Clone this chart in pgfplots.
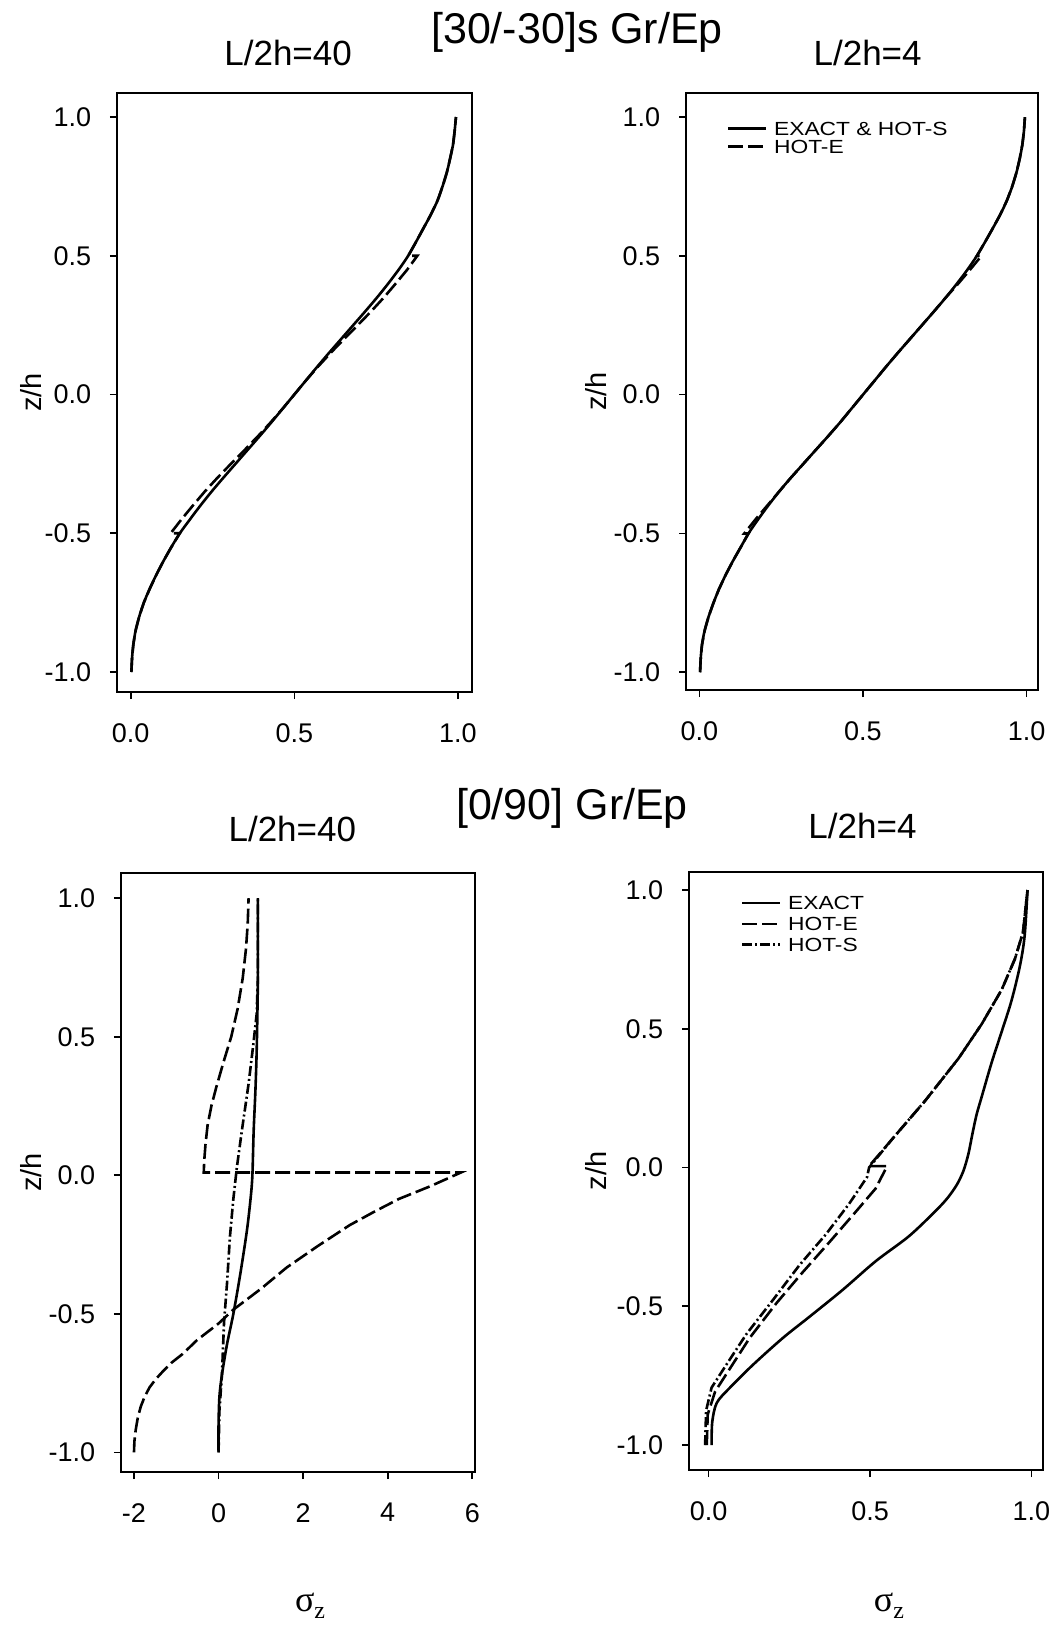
\documentclass[border=0pt]{standalone}
\usepackage{fontspec}
\setmainfont{Liberation Sans}
\newfontfamily\symfont{Liberation Serif}
\newfontfamily\legfont[FakeStretch=1.2]{Liberation Sans}
\usepackage{pgfplots}
\pgfplotsset{compat=1.18}

\pgfplotsset{
  panel/.style={
    scale only axis, anchor=north west, no markers,
    axis line style={line width=1pt},
    tick align=outside, tick pos=left,
    major tick length=3.5pt, tick style={line width=0.8pt, black},
    ytick={-1,-0.5,0,0.5,1},
    /pgf/number format/assume math mode=true,
    ticklabel style={font=\fontsize{13.5}{16}\selectfont, inner sep=0pt},
    yticklabel style={/pgf/number format/.cd, fixed, fixed zerofill, precision=1},
    xticklabel shift=12pt, yticklabel shift=9.2pt,
    ylabel={z/h},
    title style={font=\fontsize{17.5}{20}\selectfont, anchor=base},
    legend style={draw=none, fill=none, inner sep=0pt, anchor=north west,
      font=\fontsize{9.5}{11}\legfont, row sep=0pt, column sep=2pt,
      cells={anchor=west}, nodes={inner sep=1.2pt, text height=6.8pt, text depth=0pt}},
    legend image code/.code={\draw[#1] (0pt,0pt) -- (19pt,0pt);},
  },
  ylab/.style={every axis y label/.style={at={(axis description cs:#1,0.5)},
    rotate=90, anchor=center, font=\fontsize{14.5}{16}\selectfont}},
  unitx/.style={xtick={0,0.5,1},
    xticklabel style={/pgf/number format/.cd, fixed, fixed zerofill, precision=1}},
  exact/.style={line width=1.3pt},
  hote/.style={line width=1.3pt, dash pattern=on 7.5pt off 2.5pt},
  hots/.style={line width=1.3pt, dash pattern=on 5pt off 1.5pt on 1pt off 1.5pt},
}

\begin{document}
\begin{tikzpicture}
\path[use as bounding box] (0,0) rectangle (528.5pt,-813.5pt);

% ---- [30/-30]s, L/2h=40
\begin{axis}[panel, unitx, ylab=-0.2423,
  at={(58.5pt,-46.5pt)}, width=177.5pt, height=299.5pt,
  xmin=-0.042, xmax=1.043, ymin=-1.072, ymax=1.0865,
  title={L/2h=40},
  every axis title/.append style={at={(axis description cs:0.482,1)}, yshift=7.6pt},
]
\addplot[exact, smooth] coordinates {
(0.002,-1.00)(0.004,-0.95)(0.008,-0.90)(0.015,-0.85)(0.026,-0.80)(0.040,-0.75)(0.058,-0.70)(0.078,-0.65)(0.100,-0.60)(0.124,-0.55)(0.150,-0.50)(0.181,-0.45)(0.213,-0.40)(0.247,-0.35)(0.283,-0.30)(0.320,-0.25)(0.357,-0.20)(0.394,-0.15)(0.430,-0.10)(0.465,-0.05)(0.500,0.00)(0.535,0.05)(0.570,0.10)(0.606,0.15)(0.643,0.20)(0.680,0.25)(0.717,0.30)(0.753,0.35)(0.787,0.40)(0.819,0.45)(0.848,0.50)(0.872,0.55)(0.895,0.60)(0.918,0.65)(0.938,0.70)(0.953,0.75)(0.966,0.80)(0.976,0.85)(0.985,0.90)(0.990,0.95)(0.994,1.00)};
\addplot[hote] coordinates {
(0.002,-1.00)(0.004,-0.95)(0.008,-0.90)(0.015,-0.85)(0.026,-0.80)(0.040,-0.75)(0.058,-0.70)(0.078,-0.65)(0.100,-0.60)(0.124,-0.55)(0.150,-0.50)(0.122,-0.50)(0.155,-0.45)(0.190,-0.40)(0.226,-0.35)(0.265,-0.30)(0.306,-0.25)(0.348,-0.20)(0.389,-0.15)(0.428,-0.10)(0.465,-0.05)(0.500,0.00)(0.535,0.05)(0.572,0.10)(0.611,0.15)(0.652,0.20)(0.694,0.25)(0.735,0.30)(0.774,0.35)(0.810,0.40)(0.845,0.45)(0.876,0.50)(0.848,0.50)(0.872,0.55)(0.895,0.60)(0.918,0.65)(0.938,0.70)(0.953,0.75)(0.966,0.80)(0.976,0.85)(0.985,0.90)(0.990,0.95)(0.994,1.00)};
\end{axis}

% ---- [30/-30]s, L/2h=4
\begin{axis}[panel, unitx, ylab=-0.2543,
  at={(343pt,-46.5pt)}, width=176pt, height=298.5pt,
  xmin=-0.041, xmax=1.035, ymin=-1.064, ymax=1.087,
  title={L/2h=4},
  every axis title/.append style={at={(axis description cs:0.516,1)}, yshift=7.6pt},
  legend style={at={(axis description cs:0.1156,0.957)}},
]
\addplot[exact, smooth] coordinates {
(0.002,-1.00)(0.004,-0.95)(0.008,-0.90)(0.016,-0.85)(0.028,-0.80)(0.043,-0.75)(0.060,-0.70)(0.080,-0.65)(0.102,-0.60)(0.126,-0.55)(0.150,-0.50)(0.179,-0.45)(0.210,-0.40)(0.243,-0.35)(0.279,-0.30)(0.317,-0.25)(0.355,-0.20)(0.393,-0.15)(0.430,-0.10)(0.465,-0.05)(0.500,0.00)(0.535,0.05)(0.570,0.10)(0.606,0.15)(0.643,0.20)(0.680,0.25)(0.717,0.30)(0.753,0.35)(0.787,0.40)(0.819,0.45)(0.848,0.50)(0.873,0.55)(0.897,0.60)(0.920,0.65)(0.940,0.70)(0.956,0.75)(0.969,0.80)(0.979,0.85)(0.987,0.90)(0.992,0.95)(0.995,1.00)};
\addplot[hote] coordinates {
(0.002,-1.00)(0.004,-0.95)(0.008,-0.90)(0.016,-0.85)(0.028,-0.80)(0.043,-0.75)(0.060,-0.70)(0.080,-0.65)(0.102,-0.60)(0.126,-0.55)(0.150,-0.50)(0.137,-0.50)(0.171,-0.45)(0.207,-0.40)(0.243,-0.35)(0.279,-0.30)(0.317,-0.25)(0.355,-0.20)(0.393,-0.15)(0.430,-0.10)(0.465,-0.05)(0.500,0.00)(0.535,0.05)(0.570,0.10)(0.606,0.15)(0.643,0.20)(0.680,0.25)(0.717,0.30)(0.753,0.35)(0.791,0.40)(0.827,0.45)(0.862,0.50)(0.848,0.50)(0.873,0.55)(0.897,0.60)(0.920,0.65)(0.940,0.70)(0.956,0.75)(0.969,0.80)(0.979,0.85)(0.987,0.90)(0.992,0.95)(0.995,1.00)};
\legend{EXACT \& HOT-S, HOT-E}
\end{axis}

% ---- [0/90], L/2h=40
\begin{axis}[panel, ylab=-0.2542,
  at={(60.5pt,-436.5pt)}, width=177pt, height=299.5pt,
  xmin=-2.307, xmax=6.064, ymin=-1.071, ymax=1.091,
  xtick={-2,0,2,4,6},
  title={L/2h=40},
  every axis title/.append style={at={(axis description cs:0.484,1)}, yshift=10pt},
  xlabel={{\fontsize{18}{20}\selectfont\symfont σ}{\fontsize{12}{14}\selectfont\symfont\raisebox{-3.5pt}{z}}},
  every axis x label/.style={at={(axis description cs:0.534,-0.224)}, anchor=center},
]
\addplot[exact, smooth] coordinates {
(0.00,-1.00)(0.00,-0.90)(0.02,-0.80)(0.08,-0.72)(0.20,-0.61)(0.35,-0.50)(0.51,-0.36)(0.67,-0.20)(0.76,-0.08)(0.80,0.00)(0.83,0.16)(0.87,0.30)(0.90,0.44)(0.92,0.60)(0.93,0.71)(0.93,0.85)(0.93,1.00)};
\addplot[hote] coordinates {
(-2.00,-1.00)(-1.99,-0.96)(-1.96,-0.92)(-1.91,-0.875)(-1.84,-0.835)(-1.75,-0.80)(-1.63,-0.765)(-1.48,-0.735)(-1.30,-0.705)(-1.10,-0.675)(-0.85,-0.645)(-0.51,-0.595)(0.00,-0.535)(0.35,-0.485)(1.00,-0.41)(1.61,-0.333)(2.35,-0.255)(3.10,-0.18)(3.70,-0.13)(4.27,-0.085)(5.00,-0.04)(5.73,0.01)(-0.35,0.01)(-0.34,0.05)(-0.31,0.11)(-0.26,0.18)(-0.17,0.25)(-0.05,0.32)(0.12,0.41)(0.30,0.50)(0.45,0.60)(0.57,0.71)(0.65,0.82)(0.69,0.91)(0.71,1.00)};
\addplot[hots] coordinates {
(0.00,-1.00)(0.02,-0.85)(0.08,-0.72)(0.13,-0.53)(0.20,-0.39)(0.27,-0.22)(0.35,-0.085)(0.43,0.025)(0.55,0.16)(0.71,0.33)(0.82,0.47)(0.90,0.58)(0.93,0.71)(0.93,0.85)(0.93,1.00)};
\end{axis}

% ---- [0/90], L/2h=4
\begin{axis}[panel, unitx, ylab=-0.2613,
  at={(344.5pt,-436pt)}, width=177pt, height=299pt,
  xmin=-0.061, xmax=1.036, ymin=-1.09, ymax=1.065,
  title={L/2h=4},
  every axis title/.append style={at={(axis description cs:0.49,1)}, yshift=10.7pt},
  xlabel={{\fontsize{18}{20}\selectfont\symfont σ}{\fontsize{12}{14}\selectfont\symfont\raisebox{-3.5pt}{z}}},
  every axis x label/.style={at={(axis description cs:0.565,-0.227)}, anchor=center},
  legend style={at={(axis description cs:0.146,0.964)}, row sep=1.2pt},
]
\addplot[exact, smooth] coordinates {
(0.009,-1.00)(0.011,-0.917)(0.025,-0.848)(0.066,-0.793)(0.138,-0.71)(0.23,-0.614)(0.312,-0.538)(0.415,-0.441)(0.517,-0.338)(0.62,-0.248)(0.70,-0.16)(0.74,-0.11)(0.77,-0.06)(0.79,-0.01)(0.805,0.05)(0.817,0.12)(0.83,0.19)(0.846,0.255)(0.877,0.379)(0.908,0.49)(0.938,0.60)(0.964,0.724)(0.979,0.834)(0.988,1.00)};
\addplot[hote] coordinates {
(-0.006,-1.00)(-0.003,-0.89)(0.02,-0.807)(0.066,-0.724)(0.127,-0.614)(0.209,-0.49)(0.29,-0.379)(0.374,-0.269)(0.456,-0.159)(0.517,-0.076)(0.553,0.005)(0.497,0.005)(0.569,0.103)(0.671,0.241)(0.774,0.393)(0.846,0.517)(0.908,0.641)(0.949,0.752)(0.974,0.848)(0.988,1.00)};
\addplot[hots] coordinates {
(-0.011,-1.00)(-0.008,-0.876)(0.009,-0.793)(0.055,-0.71)(0.117,-0.60)(0.20,-0.476)(0.281,-0.352)(0.363,-0.241)(0.435,-0.131)(0.491,-0.034)(0.497,0.00)(0.569,0.103)(0.671,0.241)(0.774,0.393)(0.846,0.517)(0.908,0.641)(0.949,0.752)(0.974,0.848)(0.988,1.00)};
\legend{EXACT, HOT-E, HOT-S}
\end{axis}

\node[font=\fontsize{21.5}{24}\selectfont, anchor=base] at (288.5pt,-21.6pt) {[30/-30]s Gr/Ep};
\node[font=\fontsize{21.5}{24}\selectfont, anchor=base] at (286pt,-409.5pt) {[0/90] Gr/Ep};
\end{tikzpicture}
\end{document}
